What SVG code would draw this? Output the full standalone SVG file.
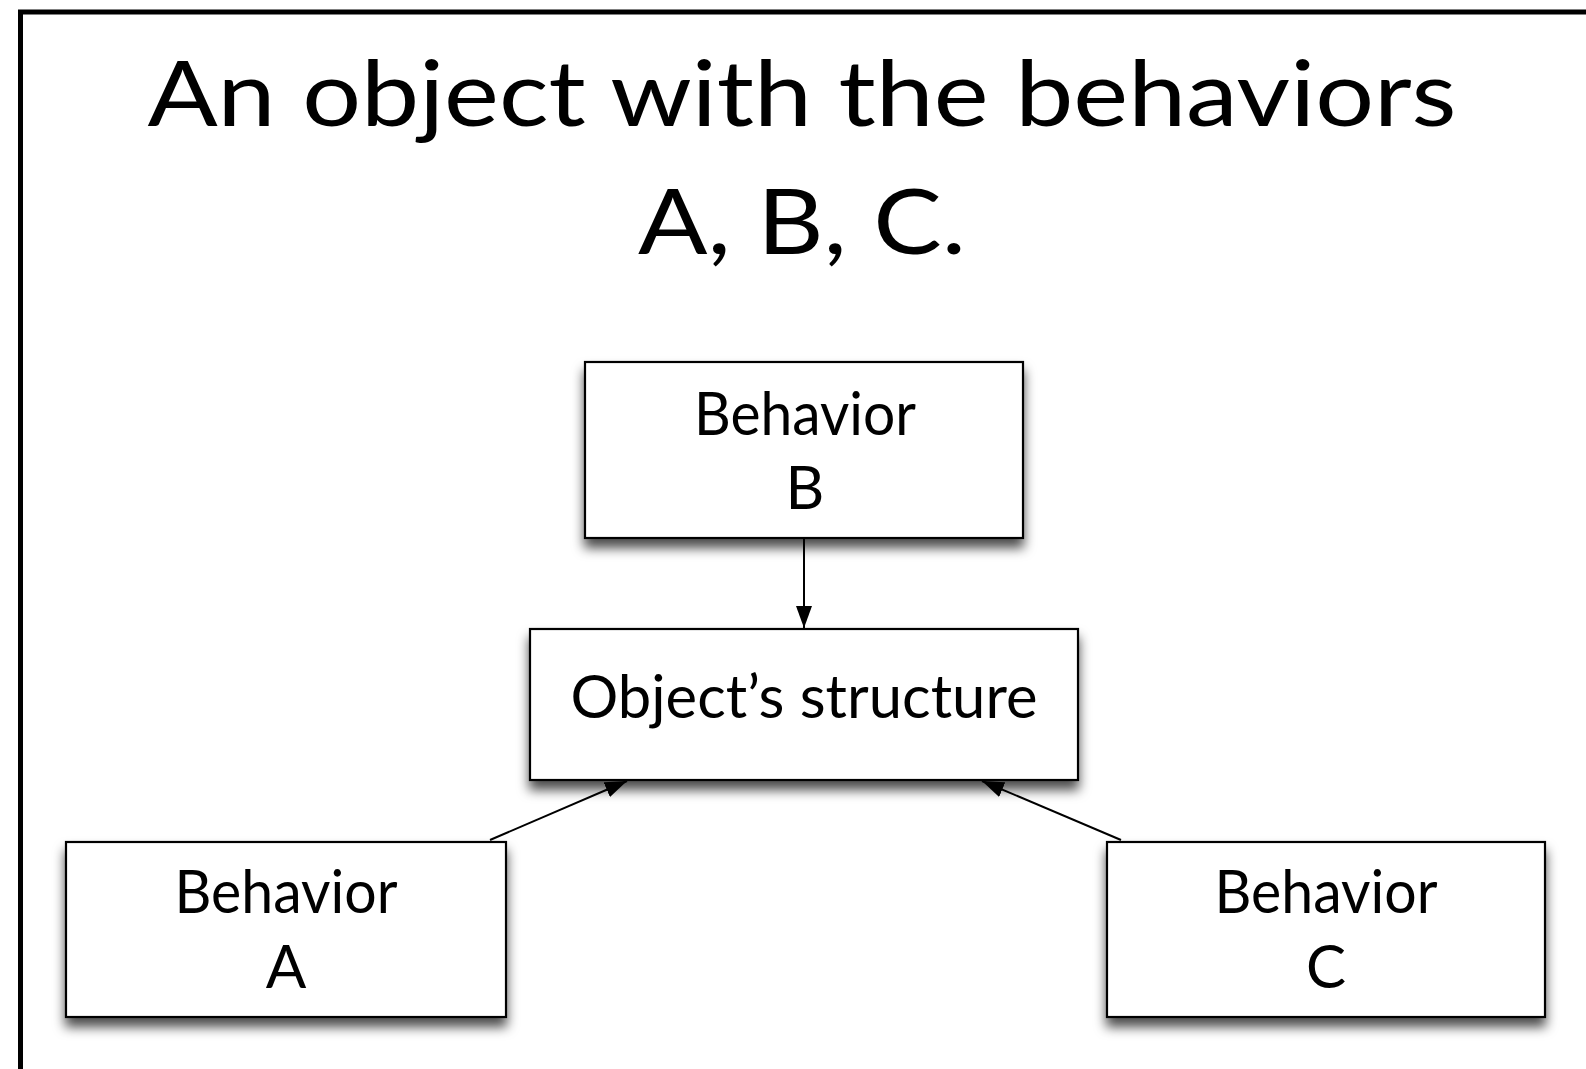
<svg xmlns="http://www.w3.org/2000/svg" width="1586" height="1069" viewBox="0 0 1586 1069">
  <style>
    .box { fill: #ffffff; stroke: #000000; stroke-width: 2.2; filter: url(#shadow); }
    .lbl { font-family: "Lato", "Liberation Sans", sans-serif; font-size: 60px; fill: #000000; text-anchor: middle; }
    .title { font-family: "Lato", "Liberation Sans", sans-serif; font-size: 92px; fill: #000000; text-anchor: middle; }
    .conn { stroke: #000000; stroke-width: 2; fill: none; marker-end: url(#arrow); }
  </style>
  <defs>
    <filter id="shadow" x="-10%" y="-20%" width="120%" height="150%">
      <feDropShadow dx="0" dy="9" stdDeviation="6" flood-color="#000000" flood-opacity="0.7"/>
    </filter>
    <marker id="arrow" markerUnits="userSpaceOnUse" markerWidth="22" markerHeight="16" refX="22" refY="8" orient="auto">
      <path d="M0,0 L22,8 L0,16 Z" fill="#000000"/>
    </marker>
  </defs>
  <rect x="0" y="0" width="1586" height="1069" fill="#ffffff"/>
  <rect id="frame" x="20.5" y="12" width="1620" height="1120" fill="none" stroke="#000000" stroke-width="5"/>

  <g id="title">
    <text class="title" x="802" y="126" textLength="1309" lengthAdjust="spacingAndGlyphs">An object with the behaviors</text>
    <text class="title" x="802" y="254" textLength="328" lengthAdjust="spacingAndGlyphs">A, B, C.</text>
  </g>

  <g id="node-behavior-b">
    <rect class="box" x="585" y="362" width="438" height="176"/>
    <text class="lbl" x="805" y="435" textLength="222" lengthAdjust="spacingAndGlyphs">Behavior</text>
    <text class="lbl" x="805" y="509">B</text>
  </g>

  <g id="node-structure">
    <rect class="box" x="530" y="629" width="548" height="151"/>
    <text class="lbl" x="804" y="718" textLength="467" lengthAdjust="spacingAndGlyphs">Object’s structure</text>
  </g>

  <g id="node-behavior-a">
    <rect class="box" x="66" y="842" width="440" height="175"/>
    <text class="lbl" x="286" y="913" textLength="223" lengthAdjust="spacingAndGlyphs">Behavior</text>
    <text class="lbl" x="286" y="988">A</text>
  </g>

  <g id="node-behavior-c">
    <rect class="box" x="1107" y="842" width="438" height="175"/>
    <text class="lbl" x="1326" y="913" textLength="223" lengthAdjust="spacingAndGlyphs">Behavior</text>
    <text class="lbl" x="1326" y="988">C</text>
  </g>

  <g id="connectors">
    <line class="conn" x1="490" y1="840" x2="627" y2="781"/>
    <line class="conn" x1="1121" y1="840" x2="982" y2="781"/>
    <line class="conn" x1="804" y1="539" x2="804" y2="628"/>
  </g>
</svg>
